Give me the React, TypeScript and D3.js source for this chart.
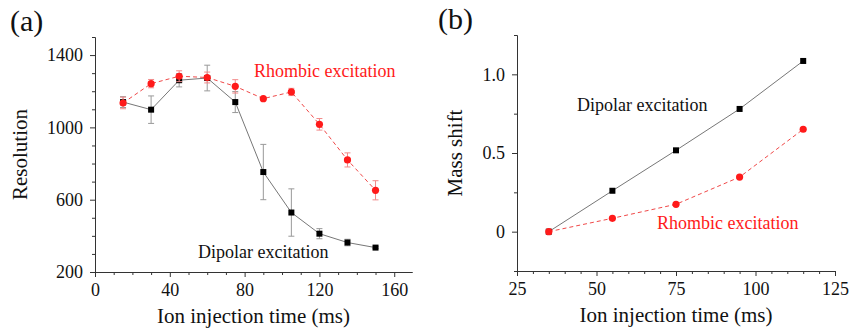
import { useEffect, useRef } from "react";
import * as d3 from "d3";

// panel (a): resolution vs injection time
const timesA = [15, 30, 45, 60, 75, 90, 105, 120, 135, 150];
const dipolarRes = [1140, 1098, 1261, 1273, 1140, 753, 529, 412, 363, 335];
const dipolarErr = [30, 76, 37, 71, 58, 153, 131, 28, 18, 5];
const rhombicRes = [1135, 1242, 1283, 1276, 1227, 1159, 1196, 1017, 820, 652];
const rhombicErr = [32, 23, 30, 30, 37, 5, 20, 32, 39, 53];
const ticksA_x = [0, 40, 80, 120, 160];
const ticksA_y = [200, 600, 1000, 1400];

// panel (b): mass shift vs injection time
const timesB = [35, 55, 75, 95, 115];
const dipolarShift = [0, 0.26, 0.517, 0.78, 1.085];
const rhombicShift = [0, 0.085, 0.174, 0.347, 0.651];
const ticksB_x = [25, 50, 75, 100, 125];
const ticksB_y = [0, 0.5, 1.0];

const FONT = "Liberation Serif, Times New Roman, Tinos, DejaVu Serif, serif";
const RED = "#ff1a1a";

type Series = {
  xs: number[];
  ys: number[];
  err?: number[];
  marker: "square" | "circle";
  color: string;
  lineColor: string;
  dash?: string;
  errColor?: string;
};

type PanelProps = {
  left: number;
  top: number;
  width: number;
  height: number;
  xDomain: [number, number];
  yDomain: [number, number];
  xTicks: number[];
  yTicks: number[];
  xMinorStep: number;
  yMinorStep: number;
  yFormat: (d: number) => string;
  series: Series[];
  yLabel: string;
  yLabelX: number;
  tag: string;
  tagX: number;
  notes: { text: string; x: number; y: number; color: string }[];
};

function Panel(p: PanelProps) {
  const xRef = useRef<SVGGElement>(null);
  const yRef = useRef<SVGGElement>(null);

  const x = d3.scaleLinear().domain(p.xDomain).range([0, p.width]);
  const y = d3.scaleLinear().domain(p.yDomain).range([p.height, 0]);

  useEffect(() => {
    const minorX = d3.range(p.xDomain[0], p.xDomain[1] + 1e-9, p.xMinorStep)
      .filter(v => !p.xTicks.some(t => Math.abs(t - v) < 1e-9));
    const minorY = d3.range(p.yDomain[0], p.yDomain[1] + 1e-9, p.yMinorStep)
      .filter(v => !p.yTicks.some(t => Math.abs(t - v) < 1e-9));

    const gx = d3.select(xRef.current!);
    gx.selectAll("*").remove();
    gx.append("g").call(d3.axisBottom(x).tickValues(minorX).tickSize(3).tickFormat(() => "").tickSizeOuter(0));
    gx.append("g").call(d3.axisBottom(x).tickValues(p.xTicks).tickSize(5).tickPadding(6).tickSizeOuter(0).tickFormat(d => String(d)));
    gx.selectAll("g").attr("font-family", null);
    gx.selectAll("path, line").attr("stroke", "#333");
    gx.selectAll("text").style("font-family", FONT).attr("font-size", 18).attr("fill", "#111");

    const gy = d3.select(yRef.current!);
    gy.selectAll("*").remove();
    gy.append("g").call(d3.axisLeft(y).tickValues(minorY).tickSize(3).tickFormat(() => "").tickSizeOuter(0));
    gy.append("g").call(d3.axisLeft(y).tickValues(p.yTicks).tickSize(5).tickPadding(7).tickSizeOuter(0).tickFormat(d => p.yFormat(d as number)));
    gy.selectAll("g").attr("font-family", null);
    gy.selectAll("path, line").attr("stroke", "#333");
    gy.selectAll("text").style("font-family", FONT).attr("font-size", 18).attr("fill", "#111");
  }, []);

  const line = d3.line<[number, number]>().x(d => x(d[0])).y(d => y(d[1]));

  return (
    <g transform={`translate(${p.left},${p.top})`} style={{ fontFamily: FONT }}>
      <text x={p.tagX} y={-6} fontSize={30} fill="#111">{p.tag}</text>
      {p.series.map((s, si) => {
        const pts = s.xs.map((v, i) => [v, s.ys[i]] as [number, number]);
        return (
          <g key={si}>
            {s.err && s.err.map((e, i) => (
              <g key={i} stroke={s.errColor} strokeWidth={1}>
                <line x1={x(s.xs[i])} x2={x(s.xs[i])} y1={y(s.ys[i] - e)} y2={y(s.ys[i] + e)} />
                <line x1={x(s.xs[i]) - 3} x2={x(s.xs[i]) + 3} y1={y(s.ys[i] - e)} y2={y(s.ys[i] - e)} />
                <line x1={x(s.xs[i]) - 3} x2={x(s.xs[i]) + 3} y1={y(s.ys[i] + e)} y2={y(s.ys[i] + e)} />
              </g>
            ))}
            <path d={line(pts) ?? ""} fill="none" stroke={s.lineColor} strokeWidth={1} strokeDasharray={s.dash} />
            {pts.map((d, i) =>
              s.marker === "square" ? (
                <rect key={i} x={x(d[0]) - 3} y={y(d[1]) - 3} width={6} height={6} fill={s.color} />
              ) : (
                <circle key={i} cx={x(d[0])} cy={y(d[1])} r={3.6} fill={s.color} />
              )
            )}
          </g>
        );
      })}
      {p.notes.map((n, i) => (
        <text key={i} x={n.x} y={n.y} fontSize={18} fill={n.color}>{n.text}</text>
      ))}
      <g ref={xRef} transform={`translate(0,${p.height})`} />
      <g ref={yRef} />
      <text x={p.width / 2} y={p.height + 51} textAnchor="middle" fontSize={21} fill="#111">
        Ion injection time (ms)
      </text>
      <text
        transform={`translate(${p.yLabelX},${p.height / 2}) rotate(-90)`}
        textAnchor="middle"
        fontSize={21}
        fill="#111"
      >
        {p.yLabel}
      </text>
    </g>
  );
}

export default function App() {
  return (
    <svg width={849} height={329} style={{ position: "absolute", left: 0, top: 0, background: "#fff" }}>
      <Panel
        left={95}
        top={37}
        width={317}
        height={235}
        xDomain={[0, 169.5]}
        yDomain={[200, 1500]}
        xTicks={ticksA_x}
        yTicks={ticksA_y}
        xMinorStep={10}
        yMinorStep={100}
        yFormat={d => String(d)}
        yLabel="Resolution"
        yLabelX={-68}
        tag="(a)"
        tagX={-85}
        series={[
          { xs: timesA, ys: dipolarRes, err: dipolarErr, marker: "square", color: "#000", lineColor: "#777", errColor: "#999" },
          { xs: timesA, ys: rhombicRes, err: rhombicErr, marker: "circle", color: RED, lineColor: "#f04848", dash: "4,3", errColor: "#f28a8a" },
        ]}
        notes={[
          { text: "Rhombic excitation", x: 159, y: 40, color: RED },
          { text: "Dipolar excitation", x: 103, y: 221, color: "#111" },
        ]}
      />
      <Panel
        left={517}
        top={35}
        width={318}
        height={236}
        xDomain={[25, 125]}
        yDomain={[-0.25, 1.25]}
        xTicks={ticksB_x}
        yTicks={ticksB_y}
        xMinorStep={5}
        yMinorStep={0.25}
        yFormat={d => (d === 0 ? "0" : d.toFixed(1))}
        yLabel="Mass shift"
        yLabelX={-55}
        tag="(b)"
        tagX={-79}
        series={[
          { xs: timesB, ys: dipolarShift, marker: "square", color: "#000", lineColor: "#777" },
          { xs: timesB, ys: rhombicShift, marker: "circle", color: RED, lineColor: "#f04848", dash: "4,3" },
        ]}
        notes={[
          { text: "Dipolar excitation", x: 60, y: 76, color: "#111" },
          { text: "Rhombic excitation", x: 140, y: 194, color: RED },
        ]}
      />
    </svg>
  );
}
